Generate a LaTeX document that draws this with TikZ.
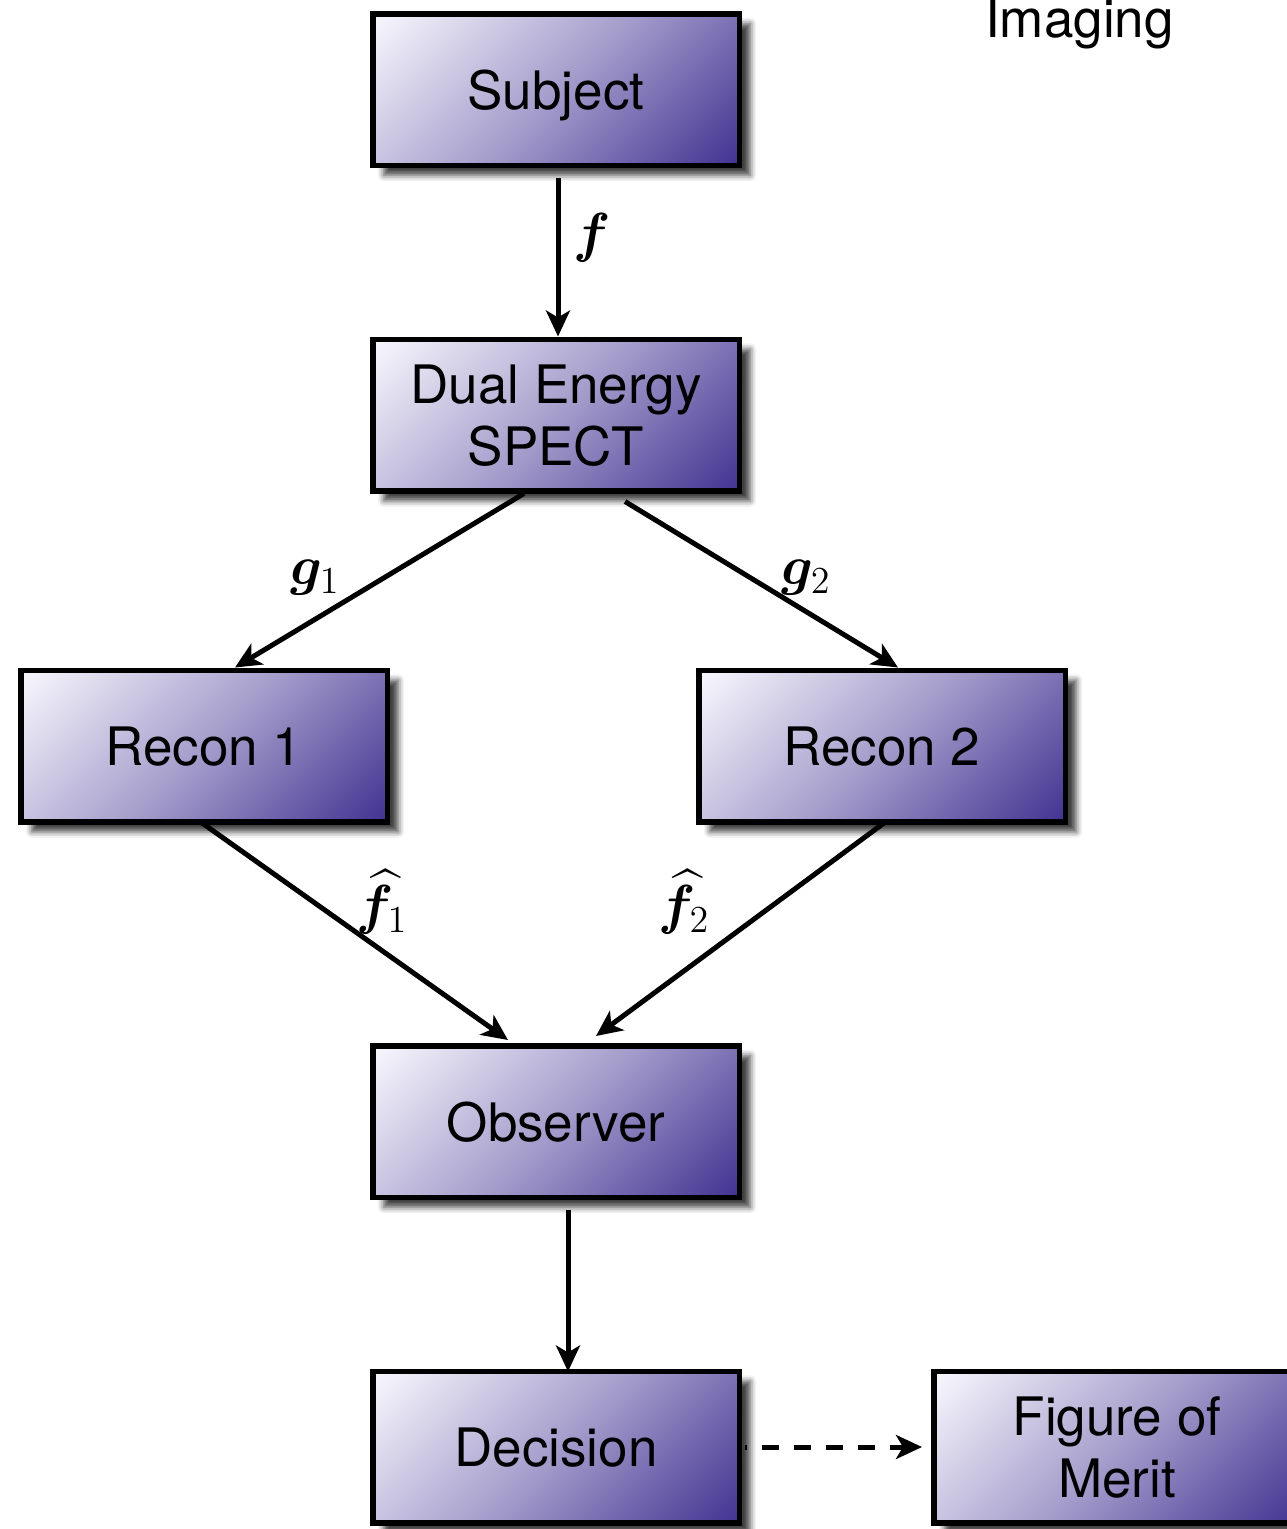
\documentclass[tikz,border=0pt]{standalone}
\usepackage{amsmath,bm,graphicx}
\usepackage[no-math]{fontspec}
\setmainfont{TeX Gyre Heros}
\usetikzlibrary{arrows.meta,shadows.blur}

\definecolor{boxlight}{HTML}{F8F7FD}
\definecolor{boxmid}{HTML}{A59ECC}
\definecolor{boxdark}{HTML}{433492}

% linear ramp across the box, from the top-left corner to the bottom-right one
\pgfdeclareverticalshading{stageramp}{100bp}{%
  color(0bp)=(boxdark); color(15bp)=(boxdark); color(50bp)=(boxmid);
  color(85bp)=(boxlight); color(100bp)=(boxlight)}

% large math symbols: set at 20.74pt and magnified
\newcommand{\bigsym}[1]{\scalebox{2.65}{\fontsize{20.74}{24}\selectfont$#1$}}

\tikzset{
  stage/.style={
    draw=black, line width=5.5pt, inner sep=0pt,
    minimum width=366.5pt, minimum height=151.5pt,
    align=center, font=\fontsize{53}{62}\selectfont, text depth=0pt,
    shading=stageramp, shading angle=45,
    blur shadow={shadow xshift=11pt, shadow yshift=-10pt,
      shadow blur radius=6pt, shadow opacity=75}
  },
  flow/.style={line width=5pt, -{Stealth[length=26pt,width=24pt,inset=7pt]}},
  sym/.style={inner sep=0pt}
}

\begin{document}
\begin{tikzpicture}[x=1pt,y=-1pt]
\useasboundingbox (0,0) rectangle (1287,1529);

% processing stages
\node[stage] (subj) at (556,89.5)  {Subject};
\node[stage] (dual) at (556,415)   {Dual Energy\\SPECT};
\node[stage] (rA)   at (204,746)   {Recon 1};
\node[stage] (rB)   at (882,746)   {Recon 2};
\node[stage] (obs)  at (556,1121.5){Observer};
\node[stage] (dec)  at (556,1447)  {Decision};
\node[stage] (fom)  at (1117,1447) {Figure of\\Merit};

% heading
\node[anchor=base west, inner sep=0pt, font=\fontsize{53}{62}\selectfont]
  (head) at (985,37) {Imaging};

% data flow
\draw[flow, shorten <=10pt] ([xshift=2pt]subj.south) -- ([xshift=2pt]dual.north);
\draw[flow] ([xshift=-32pt]dual.south) -- ([xshift=31pt]rA.north);
\draw[flow] ([xshift=69pt,yshift=-8pt]dual.south) -- ([xshift=16pt]rB.north);
\draw[flow] ([xshift=-4pt,yshift=3pt]rA.south) -- ([xshift=-48pt,yshift=3pt]obs.north);
\draw[flow] ([xshift=4pt,yshift=3pt]rB.south) -- ([xshift=40pt,yshift=7pt]obs.north);
\draw[flow, shorten <=10pt] ([xshift=12pt]obs.south) -- ([xshift=12pt,yshift=-3pt]dec.north);
\draw[flow, dash pattern=on 17pt off 15pt, dash phase=15pt, shorten <=3pt, shorten >=9pt]
  (dec.east) -- (fom.west);

% signal labels
\node[sym] (lf)  at (592,238) {\bigsym{\bm{f}}};
\node[sym] (lg1) at (315,578) {\bigsym{\bm{g}_1}};
\node[sym] (lg2) at (806,578) {\bigsym{\bm{g}_2}};
\node[sym] (lh1) at (382,902) {\bigsym{\widehat{\bm{f}}_1}};
\node[sym] (lh2) at (684,902) {\bigsym{\widehat{\bm{f}}_2}};
\end{tikzpicture}
\end{document}
